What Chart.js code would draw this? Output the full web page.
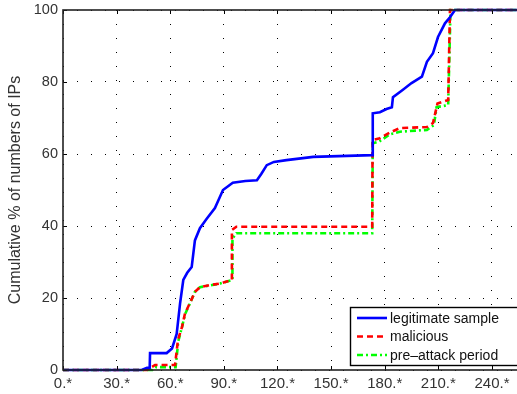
<!DOCTYPE html>
<html>
<head>
<meta charset="utf-8">
<script src="https://cdn.jsdelivr.net/npm/chart.js@4/dist/chart.umd.min.js"></script>
<style>
  html, body { margin: 0; padding: 0; background: #fff; overflow: hidden; }
  canvas { display: block; }
</style>
</head>
<body>
<canvas id="cdfChart" width="517" height="394"></canvas>
<script>
// values (x = value, y = cumulative %)
const legitX = [0, 44, 47, 48.5, 48.7, 58, 61, 63.6, 65.5, 67.3, 69.5, 72, 73.8, 76.6, 80.4, 85, 89.5, 95, 102, 108.5, 111, 114, 118, 125, 140, 173, 173.3, 177.3, 181, 184, 184.6, 190, 195, 200.8, 203.6, 207, 209.8, 213.7, 216.5, 219.3, 254];
const legitY = [0, 0, 0.6, 0.6, 4.7, 4.7, 6, 10, 18.5, 25, 27, 28.6, 36, 39.4, 42, 45, 50, 52, 52.5, 52.7, 54.5, 56.9, 57.8, 58.3, 59.2, 59.7, 71.3, 71.6, 72.5, 73, 75.8, 77.8, 79.7, 81.5, 85.6, 88, 92.5, 96.3, 98, 100, 100];

const maliciousX = [0, 47, 51.5, 62.7, 64.3, 66.6, 68.3, 71, 73.8, 76.6, 82.2, 87.8, 94.5, 94.5, 97, 173, 173.2, 177.3, 183, 188.5, 203.6, 207, 209.5, 215.5, 216.5, 254];
const maliciousY = [0, 0, 1.4, 1.4, 8.3, 12, 15.8, 18.6, 21.7, 23, 23.6, 24, 25, 38.9, 39.8, 39.8, 63.9, 64.4, 66, 67.2, 67.5, 68.6, 74, 75, 100, 100];

const preAttackX = [0, 50, 52, 63, 64.5, 66.6, 68.3, 71, 73.8, 76.6, 82.2, 87.8, 94.8, 94.8, 97, 173, 173.3, 177, 183, 188.5, 203.6, 207.5, 209, 215.5, 216.8, 254];
const preAttackY = [0, 0, 0.8, 0.8, 8, 12, 15.5, 18.5, 21.7, 23, 23.5, 24, 25, 36.5, 38, 38, 63, 63.5, 65.5, 66.2, 66.7, 68, 73, 73.6, 100, 100];

const xTicks = [0, 30, 60, 90, 120, 150, 180, 210, 240];
const yTicks = [0, 20, 40, 60, 80, 100];
const seriesNames = ['legitimate sample', 'malicious', 'pre\u2013attack period'];

const FONT = '"Liberation Sans", Arial, Helvetica, sans-serif';

function toPoints(xs, ys) {
  return xs.map((x, i) => ({ x: x, y: ys[i] }));
}

// frame, inward tick marks and the boxed legend in the lower right corner
const matlabLook = {
  id: 'matlabLook',
  afterDatasetsDraw(chart) {
    const ctx = chart.ctx;
    const a = chart.chartArea;
    const xs = chart.scales.x, ys = chart.scales.y;
    ctx.save();
    ctx.strokeStyle = '#000';
    ctx.lineWidth = 1;
    ctx.beginPath();
    xTicks.forEach(v => {
      const px = Math.round(xs.getPixelForValue(v)) + 0.5;
      ctx.moveTo(px, a.bottom); ctx.lineTo(px, a.bottom - 4);
      ctx.moveTo(px, a.top); ctx.lineTo(px, a.top + 4);
    });
    yTicks.forEach(v => {
      const py = Math.round(ys.getPixelForValue(v)) + 0.5;
      ctx.moveTo(a.left, py); ctx.lineTo(a.left + 4, py);
    });
    ctx.stroke();

    ctx.strokeStyle = '#222';
    ctx.lineWidth = 1.6;
    ctx.strokeRect(a.left, a.top, a.right - a.left + 5, a.bottom - a.top);

    // legend
    const lx = 350, ly = 307, lw = 170, lh = 58;
    ctx.fillStyle = '#fff';
    ctx.fillRect(lx, ly, lw, lh);
    ctx.strokeStyle = '#000';
    ctx.lineWidth = 1.4;
    ctx.strokeRect(lx + 0.5, ly + 0.5, lw, lh);
    ctx.font = '14px ' + FONT;
    ctx.textBaseline = 'middle';
    chart.data.datasets.forEach((ds, i) => {
      const yy = ly + 11 + i * 18.5;
      ctx.save();
      ctx.strokeStyle = ds.borderColor;
      ctx.lineWidth = ds.borderWidth;
      ctx.setLineDash(ds.borderDash || []);
      ctx.beginPath();
      ctx.moveTo(357, yy); ctx.lineTo(387, yy);
      ctx.stroke();
      ctx.restore();
      ctx.fillStyle = '#111';
      ctx.fillText(ds.label, 390, yy + 1);
    });
    ctx.restore();
  }
};

new Chart(document.getElementById('cdfChart'), {
  type: 'line',
  data: {
    datasets: [
      { label: seriesNames[0], data: toPoints(legitX, legitY), borderColor: '#0000ff', borderWidth: 2.6, pointRadius: 0, tension: 0, clip: 3 },
      { label: seriesNames[1], data: toPoints(maliciousX, maliciousY), borderColor: '#ff0000', borderWidth: 2.6, borderDash: [6, 4], pointRadius: 0, tension: 0, clip: 3 },
      { label: seriesNames[2], data: toPoints(preAttackX, preAttackY), borderColor: '#00ff00', borderWidth: 2.6, borderDash: [6, 3, 2, 3], pointRadius: 0, tension: 0, clip: 3 }
    ]
  },
  options: {
    responsive: false,
    animation: false,
    devicePixelRatio: 1,
    layout: { padding: { top: 10, right: 0, left: 0, bottom: 0 } },
    plugins: { legend: { display: false }, tooltip: { enabled: false } },
    scales: {
      x: {
        type: 'linear',
        min: 0,
        max: 254,
        afterBuildTicks: s => { s.ticks = xTicks.map(v => ({ value: v })); },
        afterFit: s => { s.height = 24; s.paddingLeft = 0; s.paddingRight = 0; },
        ticks: {
          callback: v => v + '.*',
          color: '#333',
          font: { family: FONT, size: 15 },
          padding: 5,
          maxRotation: 0
        },
        grid: { color: '#000', lineWidth: 1, drawTicks: false },
        border: { display: false, dash: [1, 13] }
      },
      y: {
        min: 0,
        max: 100,
        afterBuildTicks: s => { s.ticks = yTicks.map(v => ({ value: v })); },
        afterFit: s => { s.width = 63; s.paddingTop = 0; s.paddingBottom = 0; },
        ticks: {
          color: '#333',
          font: { family: FONT, size: 14.5 },
          padding: 5
        },
        title: {
          display: true,
          text: 'Cumulative % of numbers of IPs',
          color: '#333',
          font: { family: FONT, size: 16 },
          padding: { top: 6, bottom: 0 }
        },
        grid: { color: '#000', lineWidth: 1, drawTicks: false },
        border: { display: false, dash: [1, 13] }
      }
    }
  },
  plugins: [matlabLook]
});
</script>
</body>
</html>
